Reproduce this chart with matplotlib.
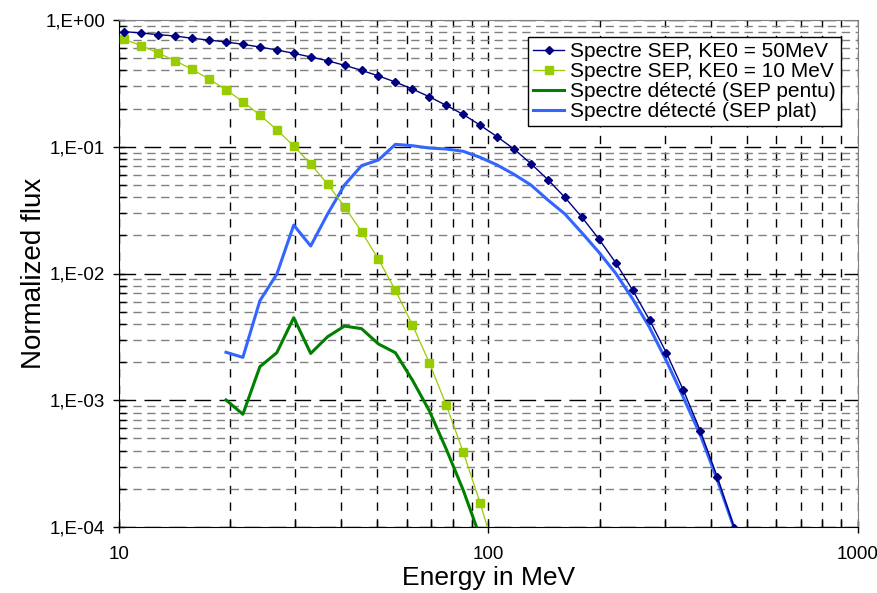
import matplotlib
matplotlib.use('Agg')
from matplotlib import pyplot as plt
from matplotlib.ticker import LogLocator, NullFormatter, FixedFormatter, FixedLocator

plt.rcParams['font.family'] = ['Liberation Sans', 'DejaVu Sans']

# energies (MeV) of the sampled points
energy = [10.34, 11.49, 12.77, 14.19, 15.77, 17.52, 19.48, 21.64, 24.06, 26.73,
          29.71, 33.02, 36.69, 40.77, 45.33, 50.37, 55.98, 62.22, 69.14, 76.84,
          85.39, 94.91, 105.5, 117.2, 130.3, 144.8, 160.9, 178.8, 198.7, 220.9,
          245.4, 272.8, 303.1, 336.9, 374.4, 416.1, 462.4]

sep_50 = [0.809, 0.790, 0.766, 0.748, 0.717, 0.695, 0.671, 0.643, 0.612, 0.580,
          0.546, 0.511, 0.477, 0.439, 0.401, 0.362, 0.324, 0.2855, 0.248, 0.212,
          0.180, 0.148, 0.120, 0.0960, 0.0735, 0.0550, 0.0399, 0.0279, 0.0188, 0.01217,
          0.00741, 0.00430, 0.00236, 0.00120, 0.000572, 0.000248, 0.0000987]

sep_10 = [0.704, 0.627, 0.549, 0.477, 0.408, 0.342, 0.282, 0.2266, 0.178, 0.1363,
          0.1014, 0.0731, 0.0506, 0.0337, 0.0214, 0.01294, 0.00737, 0.00395, 0.00198, 0.000918,
          0.000391, 0.000155, 0.000055]

# detected spectra start at the 7th energy bin
det_energy = energy[6:]
det_pentu = [0.001005, 0.000775, 0.00184, 0.00237, 0.00448, 0.00234, 0.00317, 0.00385, 0.00367, 0.00278,
             0.00237, 0.001445, 0.000827, 0.000412, 0.000196, 0.0000834]
det_plat = [0.00239, 0.00218, 0.00610, 0.00986, 0.0241, 0.01648, 0.0295, 0.0499, 0.0709, 0.0786,
            0.1045, 0.1019, 0.0977, 0.0960, 0.0921, 0.0825, 0.0718, 0.0606, 0.0499, 0.0380,
            0.0295, 0.0210, 0.01477, 0.01004, 0.00632, 0.00375, 0.00204, 0.00105, 0.000532, 0.000235,
            0.0000977]

y_ticks = [1, 0.1, 0.01, 0.001, 0.0001]
y_labels = ['1,E+00', '1,E-01', '1,E-02', '1,E-03', '1,E-04']
x_ticks = [10, 100, 1000]
x_labels = ['10', '100', '1000']

fig = plt.figure(figsize=(8.78, 5.93), dpi=100)
ax = fig.add_axes([119 / 878, 1 - 527 / 593, (858 - 119) / 878, (527 - 20) / 593])

ax.plot(energy, sep_50, color='#000080', lw=1.0, marker='D', ms=4.5,
        label='Spectre SEP, KE0 = 50MeV', zorder=5)
ax.plot(energy[:len(sep_10)], sep_10, color='#99CC00', lw=0.9, marker='s', ms=6,
        label='Spectre SEP, KE0 = 10 MeV', zorder=4)
ax.plot(det_energy[:len(det_pentu)], det_pentu, color='#008000', lw=2.2,
        label='Spectre détecté (SEP pentu)', zorder=3)
ax.plot(det_energy, det_plat, color='#3366FF', lw=2.2,
        label='Spectre détecté (SEP plat)', zorder=3)

ax.set_xscale('log')
ax.set_yscale('log')
ax.set_xlim(10, 1000)
ax.set_ylim(1e-4, 1)

ax.xaxis.set_major_locator(FixedLocator(x_ticks))
ax.xaxis.set_major_formatter(FixedFormatter(x_labels))
ax.xaxis.set_minor_locator(LogLocator(base=10, subs=range(2, 10)))
ax.xaxis.set_minor_formatter(NullFormatter())
ax.yaxis.set_major_locator(FixedLocator(y_ticks))
ax.yaxis.set_major_formatter(FixedFormatter(y_labels))
ax.yaxis.set_minor_locator(LogLocator(base=10, subs=range(2, 10)))
ax.yaxis.set_minor_formatter(NullFormatter())

ax.tick_params(which='major', direction='inout', length=8, width=1, labelsize=13.5, pad=6)
ax.tick_params(which='minor', direction='in', length=5, width=1)
ax.tick_params(axis='x', which='major', pad=10)

# excel-like dashed grid
ax.grid(True, axis='x', which='both', color='black', ls=(0, (6, 6)), lw=1)
ax.grid(True, axis='y', which='major', color='black', ls=(0, (12, 6)), lw=1)
ax.grid(True, axis='y', which='minor', color='#808080', ls=(0, (6, 4)), lw=1)
ax.set_axisbelow(True)

for s in ['top', 'right']:
    ax.spines[s].set_color('#808080')
for s in ['left', 'bottom']:
    ax.spines[s].set_color('black')

ax.set_xlabel('Energy in MeV', fontsize=19, labelpad=2)
ax.set_ylabel('Normalized flux', fontsize=20, labelpad=-1)

leg = ax.legend(loc='upper right', fontsize=15, fancybox=False, framealpha=1,
                edgecolor='black', handlelength=1.5, handletextpad=0.3,
                labelspacing=0.05, borderpad=0.25, borderaxespad=0.8)
leg.get_frame().set_linewidth(1)

fig.savefig('out.png', dpi=100)
